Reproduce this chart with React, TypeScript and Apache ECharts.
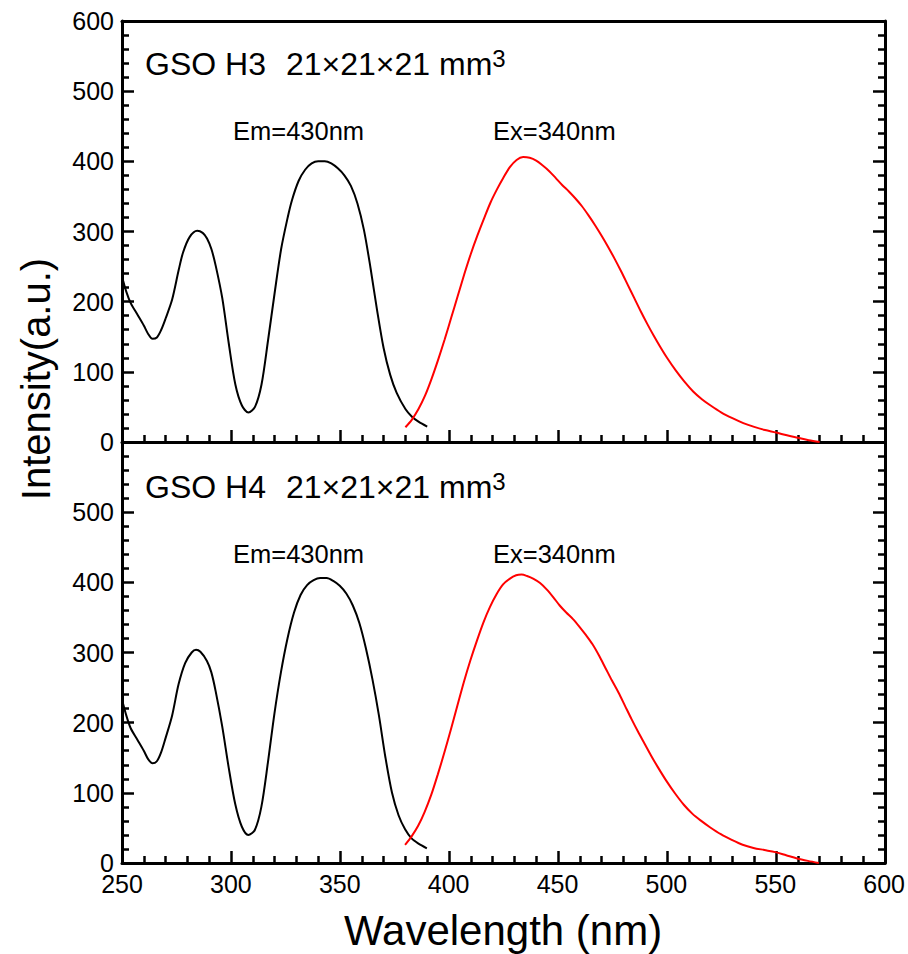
import React, { useEffect, useRef } from "react";
import * as echarts from "echarts";

// Top panel (GSO H3): excitation spectrum (Em=430nm), [wavelength nm, intensity a.u.]
const topExcitation: [number, number][] = [
  [250, 236], [252, 214], [254, 198], [257, 182], [260, 166], [262, 154], [264, 147], [266, 149],
  [268, 160], [270, 176], [273, 203], [276, 245], [278, 270], [281, 292], [284.5, 301], [287, 298],
  [289, 290], [291, 275], [293, 251], [296, 205], [299, 140], [302, 82], [305, 52], [308, 42],
  [311, 50], [314, 82], [317, 145], [320, 212], [323, 275], [326, 320], [328, 345], [331, 372],
  [334, 388], [337, 397], [340, 400], [343, 400], [346, 397], [349, 390], [352, 380], [355, 365],
  [358, 340], [361, 302], [364, 248], [367, 188], [370, 134], [373, 96], [376, 70], [380, 47],
  [383, 36], [386, 29], [390, 22],
];
// Top panel (GSO H3): emission spectrum (Ex=340nm)
const topEmission: [number, number][] = [
  [380, 21], [383, 32], [386, 47], [389, 66], [392, 90], [395, 117], [398, 146], [401, 177],
  [404, 208], [407, 239], [410, 268], [413, 294], [416, 318], [419, 341], [422, 360], [425, 377],
  [428, 392], [431, 402], [434, 406], [437, 405], [440, 401], [443, 394], [446, 386], [449, 376],
  [452, 366], [455, 357], [458, 347], [461, 336], [464, 323], [467, 309], [470, 294], [473, 278],
  [476, 261], [479, 243], [482, 224], [485, 205], [488, 186], [491, 168], [494, 151], [497, 135],
  [500, 120], [504, 102], [508, 86], [512, 72], [516, 61], [520, 52], [525, 42], [530, 34],
  [535, 27], [540, 21.5], [545, 17], [550, 13.5], [555, 9.5], [560, 6], [565, 2.5], [570, 0],
];
// Bottom panel (GSO H4): excitation spectrum (Em=430nm)
const bottomExcitation: [number, number][] = [
  [250, 233], [252, 210], [254, 192], [257, 176], [260, 160], [262, 148], [264, 142], [266, 145],
  [268, 158], [270, 178], [273, 210], [276, 255], [279, 285], [282, 300], [284, 304], [286, 301],
  [289, 288], [291, 272], [293, 245], [296, 195], [299, 136], [302, 84], [305, 52], [308, 40],
  [311, 47], [314, 80], [317, 143], [320, 213], [323, 272], [326, 320], [329, 357], [332, 382],
  [335, 396], [338, 403], [341, 406], [344, 406], [347, 402], [350, 395], [353, 384], [356, 367],
  [359, 342], [362, 306], [365, 262], [368, 210], [371, 150], [374, 100], [377, 68], [380, 48],
  [383, 35], [386, 28], [390, 21],
];
// Bottom panel (GSO H4): emission spectrum (Ex=340nm)
const bottomEmission: [number, number][] = [
  [380, 26], [383, 38], [386, 53], [389, 73], [392, 97], [395, 126], [398, 157], [401, 190],
  [404, 224], [407, 258], [410, 289], [413, 317], [416, 343], [419, 365], [422, 383], [425, 397],
  [428, 405], [431, 410], [433.5, 411], [436, 409], [439, 405], [442, 399], [445, 390], [448, 379],
  [451, 367], [454, 357], [457, 348], [460, 337], [463, 325], [466, 312], [469, 296], [472, 278],
  [475, 260], [478, 243], [481, 224], [484, 205], [487, 187], [490, 170], [493, 153], [496, 137],
  [500, 117], [504, 99], [508, 83], [512, 70], [516, 60], [520, 51], [525, 41], [530, 33],
  [535, 26], [540, 21.5], [545, 18.5], [550, 15.5], [555, 11], [560, 6.5], [565, 3], [570, 0],
];

const xTicks = { min: 250, max: 600, interval: 50 };
const yTicks = { min: 0, max: 600, interval: 100 };
const panelTitles = ["GSO H3", "GSO H4"];
const sizeText = "21×21×21 mm";
const emLabel = "Em=430nm";
const exLabel = "Ex=340nm";
const xName = "Wavelength (nm)";
const yName = "Intensity(a.u.)";

const panelTops = [21, 442];
const gridsBase = panelTops.map((top) => ({ left: 122, right: 23, top, height: 421 }));

export default function App() {
  const frameRef = useRef<HTMLDivElement>(null);
  const dataRef = useRef<HTMLDivElement>(null);
  useEffect(() => {
    if (!frameRef.current || !dataRef.current) return;

    // ---- Frame chart: axis lines with inward major/minor ticks only ----
    const frame = echarts.init(frameRef.current, undefined, { renderer: "svg" });
    const mkAxisParts = () => ({
      axisLine: { show: true, onZero: false, lineStyle: { color: "#000", width: 3 } },
      axisTick: { show: true, inside: true, length: 12, lineStyle: { color: "#000", width: 2.5 } },
      minorTick: { show: true, splitNumber: 5, length: 7, lineStyle: { color: "#000", width: 2.5 } },
      splitLine: { show: false },
      axisLabel: { show: false },
    });
    const frameX: any[] = [0, 1].map((g) => ({ type: "value", gridIndex: g, ...xTicks, ...mkAxisParts() }));
    frameX.push({
      type: "value",
      gridIndex: 0,
      position: "top",
      ...xTicks,
      axisLine: { show: true, onZero: false, lineStyle: { color: "#000", width: 3 } },
      axisTick: { show: false },
      axisLabel: { show: false },
      splitLine: { show: false },
    });
    const frameY: any[] = [];
    [0, 1].forEach((g) => {
      frameY.push({ type: "value", gridIndex: g, ...yTicks, ...mkAxisParts() });
      frameY.push({ type: "value", gridIndex: g, position: "right", ...yTicks, ...mkAxisParts() });
    });
    frame.setOption({
      animation: false,
      grid: gridsBase,
      xAxis: frameX,
      yAxis: frameY,
      series: [],
    });

    // ---- Data chart: curves, tick labels, axis titles, annotations ----
    const chart = echarts.init(dataRef.current, undefined, { renderer: "svg" });
    const hiddenParts = {
      axisLine: { show: false },
      axisTick: { show: false },
      splitLine: { show: false },
    };
    const xAxis: any[] = [0, 1].map((g) => ({
      type: "value",
      gridIndex: g,
      ...xTicks,
      ...hiddenParts,
      axisLabel: { show: g === 1, fontSize: 25, color: "#000" },
      name: g === 1 ? xName : "",
      nameLocation: "middle",
      nameGap: 46,
      nameTextStyle: { fontSize: 42, color: "#000" },
    }));
    xAxis.push({ type: "value", gridIndex: 2, min: 0, max: 1, ...hiddenParts, axisLabel: { show: false } });
    const yAxis: any[] = [0, 1].map((g) => ({
      type: "value",
      gridIndex: g,
      ...yTicks,
      ...hiddenParts,
      axisLabel: { show: true, fontSize: 25, color: "#000", showMaxLabel: g === 0 },
    }));
    yAxis.push({
      type: "value",
      gridIndex: 2,
      min: 0,
      max: 1,
      ...hiddenParts,
      axisLabel: { show: false },
      name: yName,
      nameLocation: "middle",
      nameRotate: 90,
      nameGap: 66,
      nameTextStyle: { fontSize: 40, color: "#000" },
    });

    const mkSeries = (data: [number, number][], g: number, color: string) => ({
      type: "line",
      data,
      xAxisIndex: g,
      yAxisIndex: g,
      symbol: "none",
      smooth: 0.3,
      color,
    });

    const titles: any[] = [];
    panelTops.forEach((top, i) => {
      titles.push({
        text: `{a|${panelTitles[i]}}{sp| }{a|${sizeText}}{s|3}`,
        left: 145,
        top: top + 25 + (i === 1 ? 2 : 0),
        padding: 0,
        textStyle: {
          fontWeight: "normal",
          color: "#000",
          fontSize: 32,
          rich: {
            a: { fontSize: 32, fontWeight: "normal", color: "#000", lineHeight: 36 },
            sp: { fontSize: 32, fontWeight: "normal", color: "#000", lineHeight: 36, width: 20 },
            s: { fontSize: 24, fontWeight: "normal", color: "#000", lineHeight: 20, verticalAlign: "top" },
          },
        },
      });
      titles.push({
        text: emLabel,
        left: 233,
        top: top + 95 + (i === 1 ? 1.5 : 0),
        padding: 0,
        textStyle: { fontWeight: "normal", color: "#000", fontSize: 25.5, lineHeight: 30 },
      });
      titles.push({
        text: exLabel,
        left: 493,
        top: top + 95 + (i === 1 ? 1.5 : 0),
        padding: 0,
        textStyle: { fontWeight: "normal", color: "#000", fontSize: 25.5, lineHeight: 30 },
      });
    });

    chart.setOption({
      animation: false,
      backgroundColor: "transparent",
      title: titles,
      grid: [...gridsBase, { left: 122, right: 23, top: 21, height: 716 }],
      xAxis,
      yAxis,
      series: [
        mkSeries(topExcitation, 0, "#000"),
        mkSeries(topEmission, 0, "#ff0000"),
        mkSeries(bottomExcitation, 1, "#000"),
        mkSeries(bottomEmission, 1, "#ff0000"),
      ],
    });

    return () => {
      chart.dispose();
      frame.dispose();
    };
  }, []);
  const box: React.CSSProperties = { position: "absolute", left: 0, top: 0, width: 908, height: 954 };
  return (
    <div style={{ position: "absolute", left: 0, top: 0, width: 908, height: 954, background: "#fff" }}>
      <div ref={frameRef} style={box} />
      <div ref={dataRef} style={{ ...box, pointerEvents: "none" }} />
    </div>
  );
}
